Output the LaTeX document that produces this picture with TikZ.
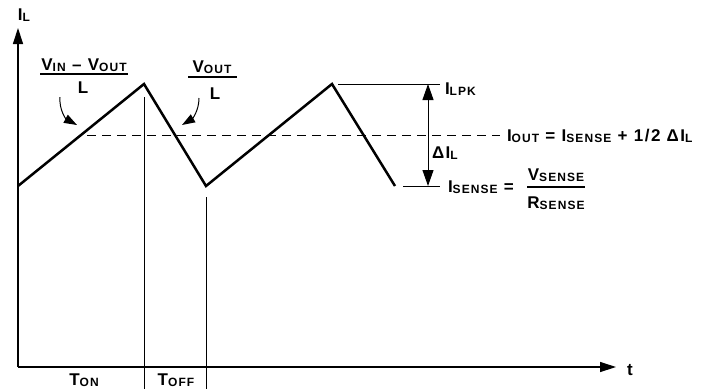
\documentclass[tikz,border=0pt]{standalone}
\usepackage{fontspec}
\setmainfont{Liberation Sans}[LetterSpace=9]
\usetikzlibrary{arrows.meta}
\newcommand{\lo}[1]{\raisebox{-1.3pt}{\fontsize{12}{12}\selectfont #1}}
\begin{document}
\begin{tikzpicture}[x=1pt,y=-1pt,
  font=\fontsize{17}{17}\selectfont\bfseries,
  wave/.style={line width=2.5pt, line join=miter},
  axis/.style={line width=1.3pt, -{Triangle[length=16pt,width=10pt]}},
  thinline/.style={line width=1pt},
  dashline/.style={line width=1pt, dash pattern=on 9pt off 6pt},
  lbl/.style={inner sep=0pt, outer sep=0pt},
  bar/.style={line width=1.2pt},
  curvearrow/.style={line width=1pt, -{Triangle[length=13pt,width=9pt]}},
  dimarrow/.style={line width=1pt, {Triangle[length=16pt,width=11pt]}-{Triangle[length=16pt,width=11pt]}}]
\useasboundingbox (0,0) rectangle (706,389);
% axes
\coordinate (O) at (18,367);
\coordinate (ytop) at (18,28);
\coordinate (xend) at (616,367);
\draw[axis] (O) -- (ytop);
\draw[axis] (O) -- (xend);
\node[lbl] (IL) at (24,15) {I\lo{L}};
\node[lbl] (t) at (630,370) {t};
% waveform
\coordinate (w0) at (18,186);
\coordinate (w1) at (144,84);
\coordinate (w2) at (206,186);
\coordinate (w3) at (332,84);
\coordinate (w4) at (395,186);
\draw[wave] (w0) -- (w1) -- (w2) -- (w3) -- (w4);
% vertical time markers
\coordinate (v1t) at (144,97);
\coordinate (v1b) at (144,389);
\coordinate (v2t) at (206,197);
\coordinate (v2b) at (206,389);
\draw[thinline] (v1t) -- (v1b);
\draw[thinline] (v2t) -- (v2b);
\node[lbl] (ton) at (84,380) {T\lo{ON}};
\node[lbl] (toff) at (176,380) {T\lo{OFF}};
% dashed average
\coordinate (d0) at (87,135);
\coordinate (d1) at (500,135);
\draw[dashline] (d0) -- (d1);
% peak / sense levels
\coordinate (pk0) at (338,84);
\coordinate (pk1) at (440,84);
\coordinate (sn0) at (403,186);
\coordinate (sn1) at (440,186);
\draw[thinline] (pk0) -- (pk1);
\draw[thinline] (sn0) -- (sn1);
\coordinate (da) at (428,84);
\coordinate (db) at (428,186);
\draw[dimarrow] (da) -- (db);
\node[lbl, anchor=west] (ILPK) at (445,89) {I\lo{LPK}};
\node[lbl, anchor=west] (dIL) at (432,153) {ΔI\lo{L}};
\node[lbl, anchor=west] (IOUT) at (507,136) {I\lo{OUT} = I\lo{SENSE} + 1/2 ΔI\lo{L}};
\node[lbl, anchor=west] (ISEN) at (448,187) {I\lo{SENSE} =};
\node[lbl] (VSEN) at (556,175) {V\lo{SENSE}};
\node[lbl] (RSEN) at (556,203) {R\lo{SENSE}};
\draw[bar] (527,187) -- (585,187);
% slope labels
\node[lbl] (num1) at (84,65) {V\lo{IN} – V\lo{OUT}};
\draw[bar] (40,74) -- (128,74);
\node[lbl] (den1) at (83,88) {L};
\node[lbl] (num2) at (212,67) {V\lo{OUT}};
\draw[bar] (188,77) -- (237,77);
\node[lbl] (den2) at (215,94) {L};
% curved pointers
\coordinate (a1s) at (60,97);
\coordinate (a1e) at (77,125);
\coordinate (a2s) at (199,98);
\coordinate (a2e) at (182,125);
\draw[curvearrow] (a1s) .. controls (59,110) and (66,119) .. (a1e);
\draw[curvearrow] (a2s) .. controls (199,111) and (192,119) .. (a2e);
\end{tikzpicture}
\end{document}
